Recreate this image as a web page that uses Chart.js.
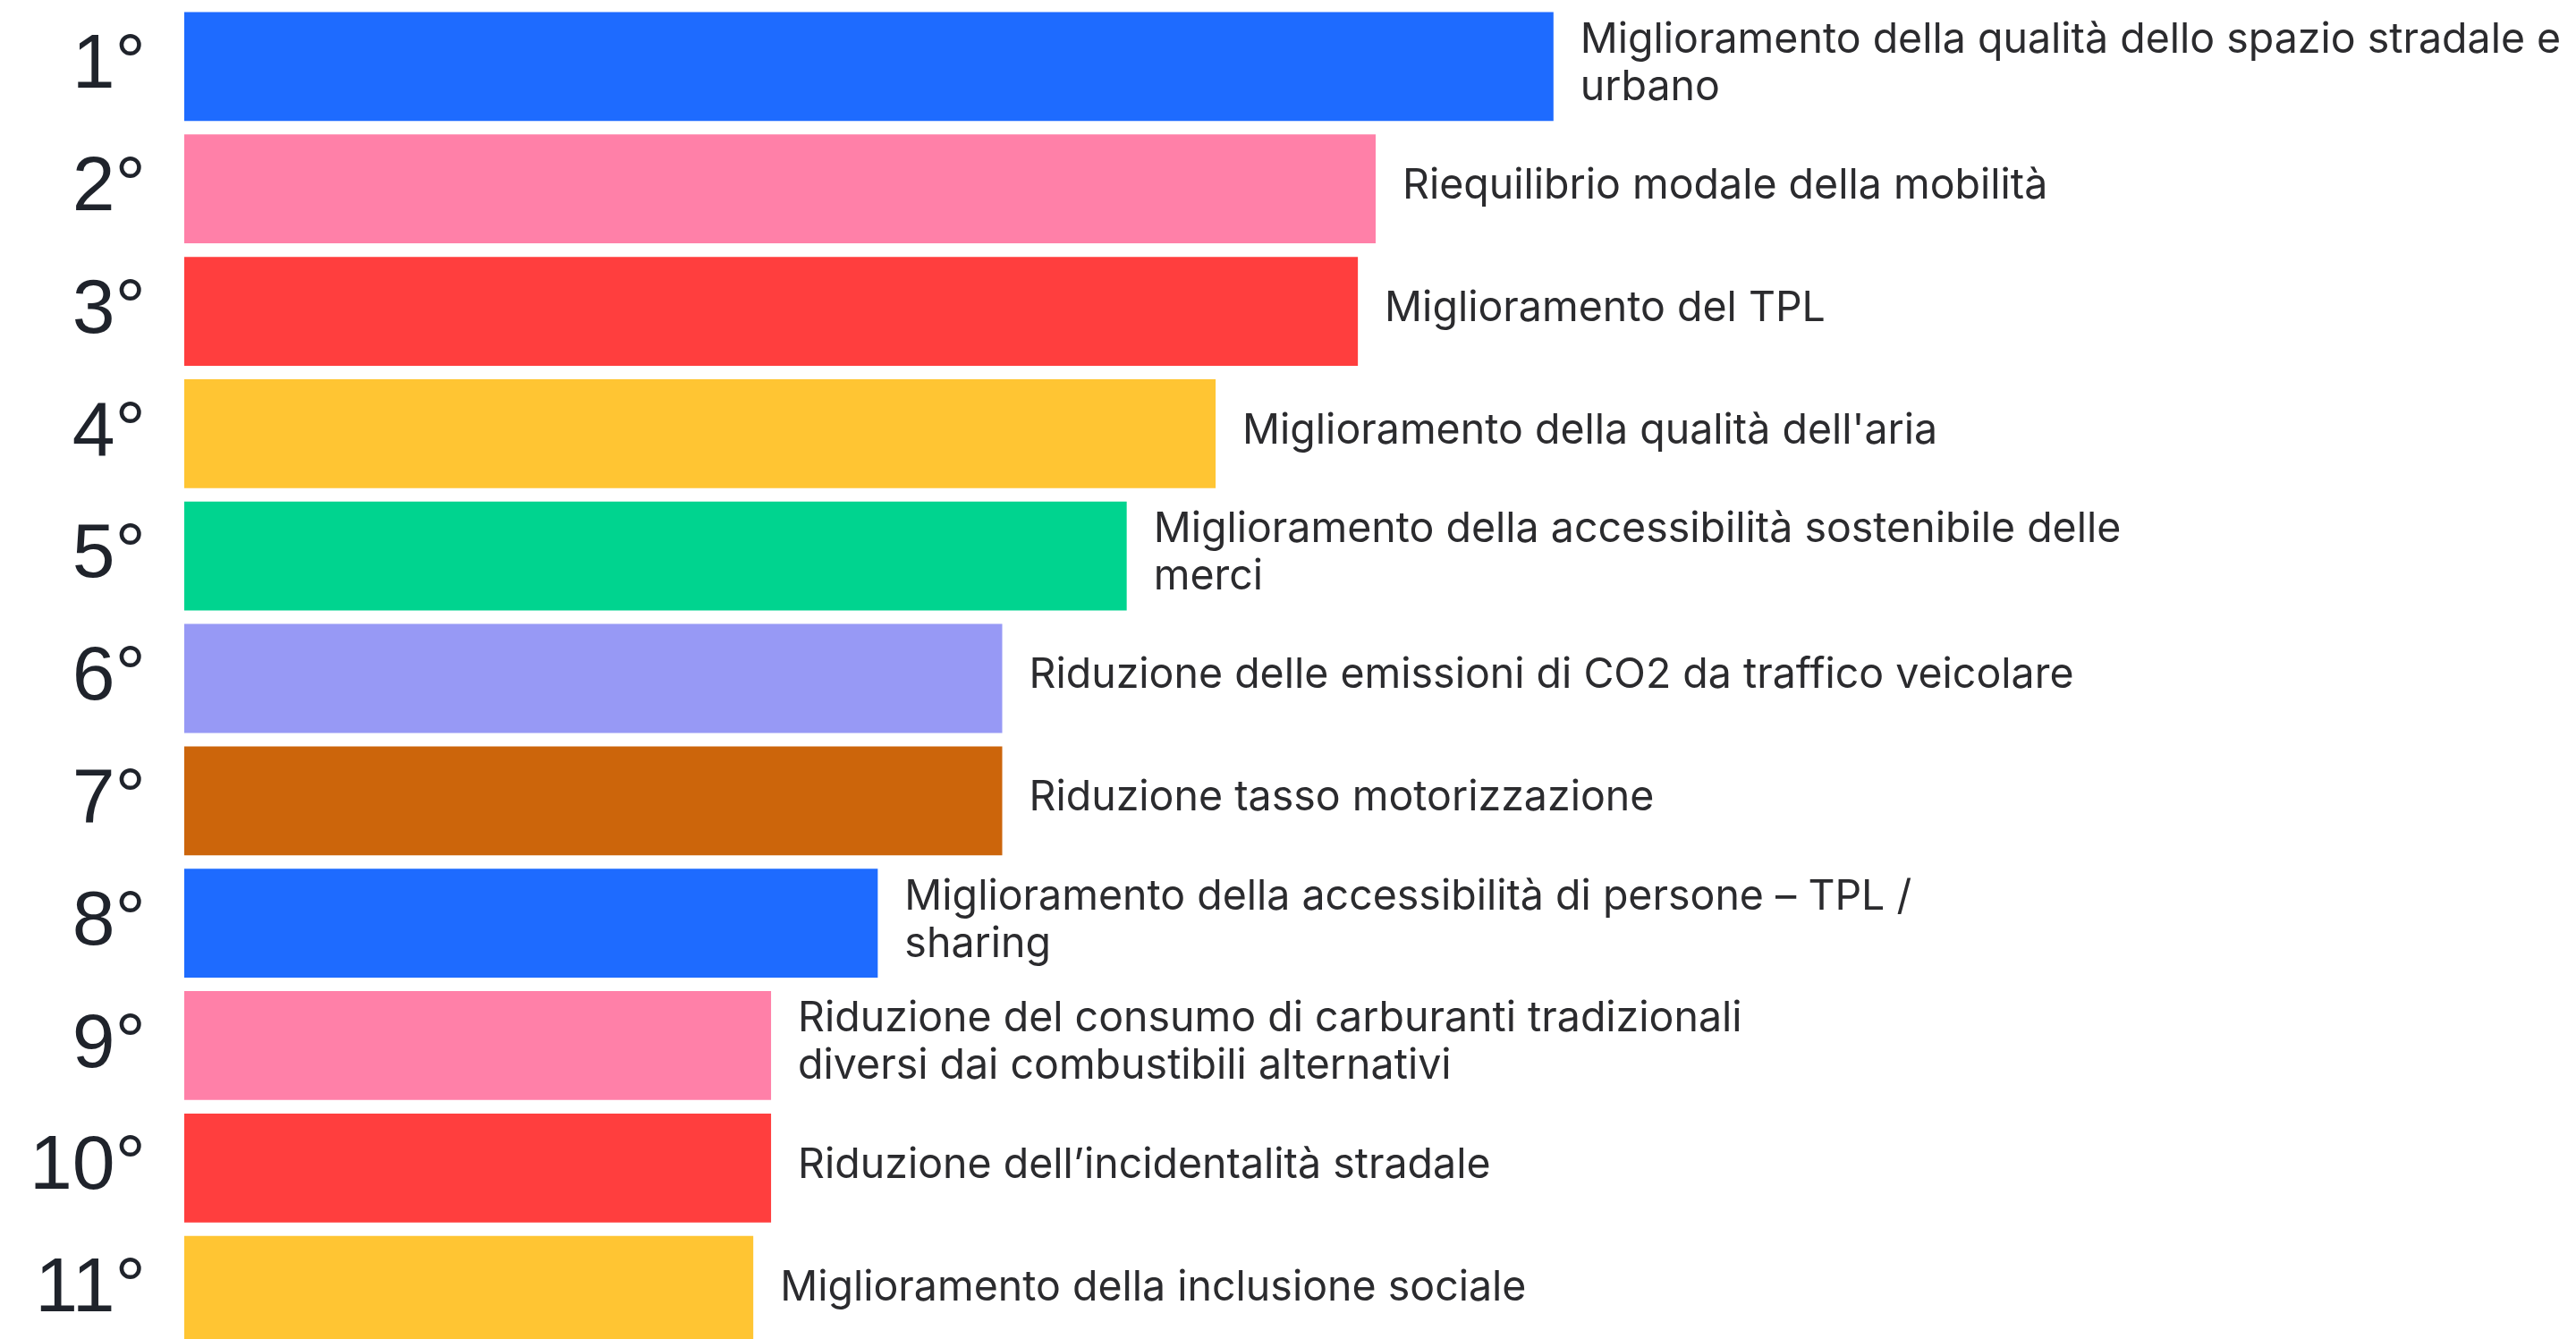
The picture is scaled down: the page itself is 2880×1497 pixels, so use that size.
<!DOCTYPE html>
<html>
<head>
<meta charset="utf-8">
<script src="https://cdn.jsdelivr.net/npm/chart.js@4.4.1/dist/chart.umd.min.js"></script>
<style>
  html, body { margin: 0; padding: 0; background: #ffffff; overflow: hidden; }
  #wrap { width: 2880px; height: 1497px; overflow: hidden; }
  canvas { display: block; }
</style>
</head>
<body>
<div id="wrap"><canvas id="ranking" width="2880" height="1512"></canvas></div>
<script>
// rank labels on the left
const ranks = ["1°", "2°", "3°", "4°", "5°", "6°", "7°", "8°", "9°", "10°", "11°"];

// objective names (multi-line where the picture wraps them)
const objectives = [
    ["Miglioramento della qualità dello spazio stradale e", "urbano"],
    ["Riequilibrio modale della mobilità"],
    ["Miglioramento del TPL"],
    ["Miglioramento della qualità dell'aria"],
    ["Miglioramento della accessibilità sostenibile delle", "merci"],
    ["Riduzione delle emissioni di CO2 da traffico veicolare"],
    ["Riduzione tasso motorizzazione"],
    ["Miglioramento della accessibilità di persone – TPL /", "sharing"],
    ["Riduzione del consumo di carburanti tradizionali", "diversi dai combustibili alternativi"],
    ["Riduzione dell’incidentalità stradale"],
    ["Miglioramento della inclusione sociale"]
];

// bar lengths (relative score)
const scores = [77, 67, 66, 58, 53, 46, 46, 39, 33, 33, 32];

const barColors = ["#1e6bff", "#ff80a8", "#ff3e3e", "#ffc533", "#00d48f", "#9799f5",
                   "#cc650b", "#1e6bff", "#ff80a8", "#ff3e3e", "#ffc533"];

// draws the objective text right after each bar
const barText = {
    id: "barText",
    afterDatasetsDraw(chart) {
        const ctx = chart.ctx;
        const meta = chart.getDatasetMeta(0);
        const lineH = 53;
        ctx.save();
        ctx.font = "46.5px Inter, 'Noto Sans', sans-serif";
        ctx.fillStyle = "#2b2b2e";
        ctx.textAlign = "left";
        ctx.textBaseline = "middle";
        meta.data.forEach((bar, i) => {
            const lines = objectives[i];
            const top = bar.y - 3 - (lines.length - 1) * lineH / 2;
            lines.forEach((t, j) => {
                ctx.fillText(t, bar.x + 30, top + j * lineH);
            });
        });
        ctx.restore();
    }
};

const ctx = document.querySelector("#ranking");

new Chart(ctx, {
    type: "bar",
    data: {
        labels: ranks,
        datasets: [{
            data: scores,
            backgroundColor: barColors,
            borderWidth: 0,
            barPercentage: 0.89,
            categoryPercentage: 1
        }]
    },
    options: {
        indexAxis: "y",
        responsive: false,
        animation: false,
        layout: {
            padding: { top: 6, right: 10, bottom: 1, left: 0 }
        },
        plugins: {
            legend: { display: false },
            tooltip: { enabled: false }
        },
        scales: {
            x: {
                min: 0,
                max: 134,
                display: false
            },
            y: {
                grid: { display: false, drawTicks: false },
                border: { display: false },
                ticks: {
                    padding: 43,
                    color: "#1f232b",
                    font: { family: "'Liberation Sans', Arial, sans-serif", size: 86 }
                },
                afterFit(scale) {
                    // fixed gutter for the rank labels, no extra top/bottom room
                    scale.width = 206;
                    scale.paddingTop = 0;
                    scale.paddingBottom = 0;
                }
            }
        }
    },
    plugins: [barText]
});
</script>
</body>
</html>
